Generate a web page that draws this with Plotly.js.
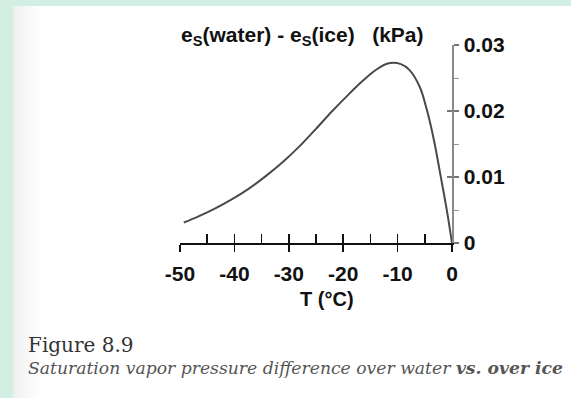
<!DOCTYPE html>
<html>
<head>
<meta charset="utf-8">
<script src="https://cdn.plot.ly/plotly-3.0.1.min.js"></script>
<style>
  html, body { margin: 0; padding: 0; width: 571px; height: 398px; overflow: hidden; background: rgb(211,239,227); }
  #chart { position: absolute; left: 13px; top: 6px; width: 558px; height: 392px;
           background: linear-gradient(to right, #eeeeee 0px, #f8f8f8 14px, #ffffff 30px); }
</style>
</head>
<body>
<div id="chart"></div>
<script>
// Temperature (°C) and saturation vapour pressure difference (kPa)
const temperatureC = [-49.3, -46.7, -43.6, -40.5, -37.4, -34.3, -31.2, -28.1, -25.0, -22.0, -18.9, -16.5, -14.2, -11.8, -9.4, -7.8, -5.9, -4.6, -3.3, -2.1, -1.0, 0];
const esDiffKPa    = [0.0031, 0.0040, 0.0052, 0.0066, 0.0082, 0.0101, 0.0122, 0.0146, 0.0173, 0.0200, 0.0226, 0.0245, 0.0261, 0.0272, 0.0271, 0.0262, 0.0236, 0.0201, 0.0155, 0.0102, 0.0052, 0.0];
const xTickVals = [-50, -40, -30, -20, -10, 0];
const xTickText = ['-50', '-40', '-30', '-20', '-10', '0'];
const yTickVals = [0, 0.01, 0.02, 0.03];
const yTickText = ['0', '0.01', '0.02', '0.03'];

const titleText = 'e<sub>S</sub>(water) - e<sub>S</sub>(ice)\u00A0\u00A0\u00A0(kPa)';
const xTitleText = 'T (°C)';
const figLabel = 'Figure 8.9';
const captionText = 'Saturation vapor pressure difference over water <b>vs. over ice</b>';

const sans = 'Liberation Sans, Arial, Helvetica, sans-serif';
const serif = 'DejaVu Serif, Liberation Serif, serif';

// page-pixel helpers relative to plot area (x 180..452, y 45..243)
const PX0 = 180, PX1 = 452, PY0 = 45, PY1 = 243;
const xp = X => (X - PX0) / (PX1 - PX0);
const yp = Y => (PY1 - Y) / (PY1 - PY0);

const data = [
  { x: temperatureC, y: esDiffKPa, type: 'scatter', mode: 'lines',
    line: { color: '#4a4a4a', width: 2, shape: 'spline', smoothing: 1 },
    hoverinfo: 'skip', showlegend: false, cliponaxis: false },
  { x: [xTickVals[0]], y: [yTickVals[0]], xaxis: 'x2', yaxis: 'y2', type: 'scatter', mode: 'markers',
    marker: { opacity: 0 }, hoverinfo: 'skip', showlegend: false }
];

const layout = {
  width: 558, height: 392,
  margin: { l: PX0 - 13, r: 571 - PX1, t: PY0 - 6, b: 398 - PY1 },
  paper_bgcolor: 'rgba(0,0,0,0)',
  plot_bgcolor: 'rgba(0,0,0,0)',
  showlegend: false,
  xaxis: {
    range: [-50, 0], showgrid: false, zeroline: false,
    showline: true, linecolor: '#111', linewidth: 1.5,
    ticks: 'outside', ticklen: 7, tickwidth: 1.5, tickcolor: '#111',
    tickvals: xTickVals, ticktext: xTickText,
    tickfont: { family: sans, size: 21, color: '#111', weight: 'bold' },
    ticklabelstandoff: 4
  },
  xaxis2: {
    range: [-50, 0], overlaying: 'x', anchor: 'y', side: 'bottom',
    showgrid: false, zeroline: false, showline: false,
    ticks: 'inside', ticklen: 9, tickwidth: 1.5, tickcolor: '#111',
    dtick: 5, tick0: 0, showticklabels: false
  },
  yaxis: {
    range: [0, 0.03], side: 'right', showgrid: false, zeroline: false,
    showline: true, linecolor: '#8a8a8a', linewidth: 1.5,
    ticks: 'outside', ticklen: 5, tickwidth: 1.5, tickcolor: '#777',
    tickvals: yTickVals, ticktext: yTickText,
    minor: { dtick: 0.005, tick0: 0, ticks: 'outside', ticklen: 5, tickwidth: 1, tickcolor: '#999', showgrid: false },
    tickfont: { family: sans, size: 21, color: '#111', weight: 'bold' },
    ticklabelstandoff: 1
  },
  yaxis2: {
    range: [0, 0.03], overlaying: 'y', anchor: 'x', side: 'right',
    showgrid: false, zeroline: false, showline: false,
    ticks: 'inside', ticklen: 5, tickwidth: 1.5, tickcolor: '#777',
    tickvals: yTickVals, showticklabels: false
  },
  annotations: [
    { text: titleText, xref: 'paper', yref: 'paper', x: xp(302), y: yp(36),
      xanchor: 'center', yanchor: 'middle', showarrow: false,
      font: { family: sans, size: 21, color: '#111', weight: 'bold' } },
    { text: xTitleText, xref: 'paper', yref: 'paper', x: xp(327), y: yp(299),
      xanchor: 'center', yanchor: 'middle', showarrow: false,
      font: { family: sans, size: 20, color: '#111', weight: 'bold' } },
    { text: figLabel, xref: 'paper', yref: 'paper', x: xp(26), y: yp(345),
      xanchor: 'left', yanchor: 'middle', showarrow: false,
      font: { family: serif, size: 20, color: '#333' } },
    { text: '<i>' + captionText + '</i>', xref: 'paper', yref: 'paper', x: xp(26), y: yp(368),
      xanchor: 'left', yanchor: 'middle', showarrow: false, align: 'left',
      font: { family: serif, size: 17.2, color: '#555' } }
  ]
};

Plotly.newPlot('chart', data, layout, { staticPlot: true, displayModeBar: false });
</script>
</body>
</html>
